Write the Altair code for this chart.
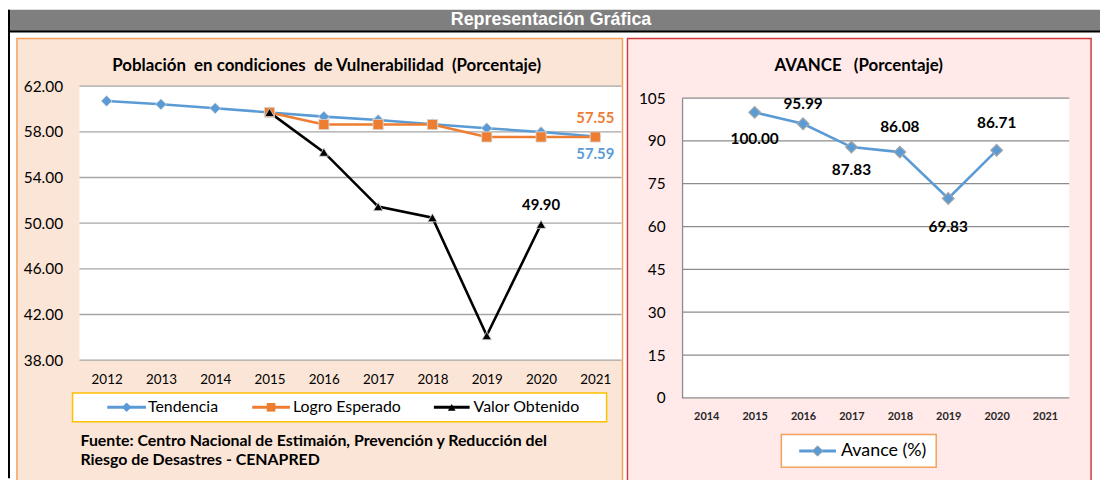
import altair as alt
import pandas as pd

# ---------------- data ----------------
years_left = [2012, 2013, 2014, 2015, 2016, 2017, 2018, 2019, 2020, 2021]
series = ["Tendencia", "Logro Esperado", "Valor Obtenido"]
tendencia = [60.70, 60.41, 60.06, 59.70, 59.33, 59.04, 58.67, 58.32, 57.98, 57.59]
logro_years = [2015, 2016, 2017, 2018, 2019, 2020, 2021]
logro = [59.70, 58.64, 58.64, 58.64, 57.55, 57.55, 57.55]
valor_years = [2015, 2016, 2017, 2018, 2019, 2020]
valor = [59.70, 56.22, 51.45, 50.48, 40.15, 49.90]
left_ticks = [38, 42, 46, 50, 54, 58, 62]

years_right = [2014, 2015, 2016, 2017, 2018, 2019, 2020, 2021]
avance_years = [2015, 2016, 2017, 2018, 2019, 2020]
avance = [100.00, 95.99, 87.83, 86.08, 69.83, 86.71]
right_ticks = [0, 15, 30, 45, 60, 75, 90, 105]

NB = "\u00a0"
header_text = "Representación Gráfica"
left_title = f"Población{NB} en condiciones{NB} de Vulnerabilidad{NB} (Porcentaje)"
right_title = f"AVANCE{NB}{NB} (Porcentaje)"
footer = ["Fuente: Centro Nacional de Estimaión, Prevención y Reducción del",
          "Riesgo de Desastres - CENAPRED"]
right_legend = "Avance (%)"

# ---------------- tables ----------------
rows = []
for name, yrs, vals in [(series[0], years_left, tendencia),
                        (series[1], logro_years, logro),
                        (series[2], valor_years, valor)]:
    for y, v in zip(yrs, vals):
        rows.append({"year": y, "value": v, "series": name})
left_df = pd.DataFrame(rows)
right_df = pd.DataFrame({"year": avance_years, "value": avance})
one = pd.DataFrame({"k": [0]})

# ---------------- styling ----------------
FONT = "Lato"
BLUE, ORANGE, BLACK = "#5b9bd5", "#ed7d31", "#000000"
W, H = 1100, 472


def P(v):
    # page pixel -> chart pixel (page has an 8px margin)
    return v - 8


LX = alt.Scale(type="point", domain=years_left, range=[P(80), P(627)], padding=0.5)
LY = alt.Scale(domain=[38, 62], range=[P(361), P(85)], nice=False, zero=False)
RX = alt.Scale(type="point", domain=years_right, range=[P(687), P(1077)], padding=0.5)
RY = alt.Scale(domain=[0, 105], range=[P(399), P(97)], nice=False, zero=False)


def box(x0, x1, y0, y1, fill, stroke=None, sw=1.5):
    kw = dict(fill=fill)
    if stroke:
        kw.update(stroke=stroke, strokeWidth=sw)
    return alt.Chart(one).mark_rect(**kw).encode(
        x=alt.value(x0), x2=alt.value(x1), y=alt.value(y0), y2=alt.value(y1))


def label(txt, x, y, size=15, weight="bold", color="black", align="left", font=FONT):
    return alt.Chart(one).mark_text(text=txt, font=font, fontSize=size, fontWeight=weight,
                                    color=color, align=align, baseline="middle").encode(
        x=alt.value(x), y=alt.value(y))


layers = []
# header
layers.append(box(0, W, 0, P(29.5), "#7f7f7f"))
layers.append(alt.Chart(one).mark_rule(color="black", strokeWidth=2).encode(
    x=alt.value(0), x2=alt.value(W), y=alt.value(P(30))))
layers.append(alt.Chart(one).mark_rule(color="black", strokeWidth=2).encode(
    x=alt.value(1), y=alt.value(0), y2=alt.value(H)))
layers.append(label(header_text, P(555), P(18), size=18, color="white", align="center",
                    font="Liberation Sans"))

# panels
layers.append(box(P(17), P(627), P(37), H + 10, "#fbe5d6", "#f4a15d"))
layers.append(box(P(632), P(1099), P(37), H + 10, "#ffe9e9", "#d23b3b"))
layers.append(box(P(80), P(626), P(85), P(361), "white"))
layers.append(box(P(687), P(1077), P(97), P(399), "white"))

# titles
layers.append(label(left_title, P(329), P(65), size=17, align="center"))
layers.append(label(right_title, P(865), P(65), size=17, align="center"))

# ---------- left chart ----------
layers.append(alt.Chart(pd.DataFrame({"tick": left_ticks})).mark_rule(
    color="#a6a6a6", strokeWidth=1.3).encode(
    y=alt.Y("tick:Q", scale=LY, axis=None),
    x=alt.value(P(80)), x2=alt.value(P(626))))

color_l = alt.Color("series:N", scale=alt.Scale(domain=series, range=[BLUE, ORANGE, BLACK]),
                    legend=None)
layers.append(alt.Chart(left_df).mark_line(strokeWidth=2.6).encode(
    x=alt.X("year:O", scale=LX, title=None,
            axis=alt.Axis(orient="bottom", offset=P(361) - H, domain=False, ticks=False,
                          tickSize=0, grid=False, labelAngle=0, labelFont=FONT,
                          labelFontSize=13.5, labelColor="black", labelBaseline="middle",
                          labelPadding=20, zindex=1)),
    y=alt.Y("value:Q", scale=LY, title=None,
            axis=alt.Axis(orient="left", offset=-P(80), values=left_ticks, format=".2f",
                          domain=False, ticks=False, tickSize=0, grid=False,
                          labelFont=FONT, labelFontSize=15.5, labelColor="black",
                          labelPadding=17, zindex=1)),
    color=color_l))

layers.append(alt.Chart(left_df).mark_point(filled=True, opacity=1, stroke="#d9d9d9",
                                            strokeWidth=0.8).encode(
    x=alt.X("year:O", scale=LX, axis=None),
    y=alt.Y("value:Q", scale=LY, axis=None),
    color=color_l,
    shape=alt.Shape("series:N", scale=alt.Scale(domain=series,
                                                range=["diamond", "square", "triangle-up"]),
                    legend=None),
    size=alt.Size("series:N", scale=alt.Scale(domain=series, range=[120, 90, 160]),
                  legend=None)))

for name, yr, col, dy in [(series[1], 2021, ORANGE, -19),
                          (series[0], 2021, BLUE, 18),
                          (series[2], 2020, BLACK, -19)]:
    layers.append(alt.Chart(left_df).transform_filter(
        (alt.datum.series == name) & (alt.datum.year == yr)).mark_text(
        font=FONT, fontSize=15, fontWeight="bold", color=col, dy=dy).encode(
        x=alt.X("year:O", scale=LX, axis=None),
        y=alt.Y("value:Q", scale=LY, axis=None),
        text=alt.Text("value:Q", format=".2f")))

# left legend (drawn)
layers.append(box(P(73), P(611), P(394), P(423), "white", "#ffc000"))
LEGY = P(408.5)
for name, col, shp, sz, x0, x1, tx in [
        (series[0], BLUE, "diamond", 90, 108, 147, 149),
        (series[1], ORANGE, "square", 75, 254, 292, 295),
        (series[2], BLACK, "triangle-up", 60, 437, 473, 477)]:
    layers.append(alt.Chart(one).mark_rule(color=col, strokeWidth=3).encode(
        x=alt.value(P(x0)), x2=alt.value(P(x1)), y=alt.value(LEGY)))
    layers.append(alt.Chart(one).mark_point(shape=shp, filled=True, color=col, size=sz,
                                            opacity=1).encode(
        x=alt.value(P((x0 + x1) / 2)), y=alt.value(LEGY)))
    layers.append(label(name, P(tx), LEGY, size=16, weight="normal"))

# footer
layers.append(label(footer[0], P(81), P(442), size=16))
layers.append(label(footer[1], P(81), P(462), size=16))

# ---------- right chart ----------
layers.append(alt.Chart(pd.DataFrame({"tick": right_ticks})).mark_rule(
    color="#8c8c8c", strokeWidth=1.3).encode(
    y=alt.Y("tick:Q", scale=RY, axis=None),
    x=alt.value(P(687)), x2=alt.value(P(1077))))

layers.append(alt.Chart(right_df).mark_line(color=BLUE, strokeWidth=2.6).encode(
    x=alt.X("year:O", scale=RX, title=None,
            axis=alt.Axis(orient="bottom", offset=P(399) - H, domain=False, ticks=False,
                          tickSize=0, grid=False, labelAngle=0, labelFont=FONT,
                          labelFontSize=11, labelFontWeight="bold", labelColor="#262626",
                          labelBaseline="middle", labelPadding=19, zindex=1)),
    y=alt.Y("value:Q", scale=RY, title=None,
            axis=alt.Axis(orient="left", offset=-P(687), values=right_ticks, format="d",
                          domain=True, domainColor="#8c8c8c", domainWidth=1.3,
                          ticks=False, tickSize=0, grid=False, labelFont=FONT,
                          labelFontSize=15.5, labelColor="black", labelPadding=17,
                          zindex=1))))

layers.append(alt.Chart(right_df).mark_point(shape="diamond", filled=True, fill=BLUE,
                                             stroke="#a6a6a6", strokeWidth=1.2, size=140,
                                             opacity=1).encode(
    x=alt.X("year:O", scale=RX, axis=None),
    y=alt.Y("value:Q", scale=RY, axis=None)))

label_dy = {2015: 27, 2016: -20, 2017: 23, 2018: -25, 2019: 29, 2020: -27}
for yr, dy in label_dy.items():
    layers.append(alt.Chart(right_df).transform_filter(alt.datum.year == yr).mark_text(
        font=FONT, fontSize=15.5, fontWeight="bold", color="black", dy=dy).encode(
        x=alt.X("year:O", scale=RX, axis=None),
        y=alt.Y("value:Q", scale=RY, axis=None),
        text=alt.Text("value:Q", format=".2f")))

# right legend (drawn)
layers.append(box(P(787), P(943), P(436), P(469), "white", "#f4a15d"))
RLY = P(452.5)
layers.append(alt.Chart(one).mark_rule(color=BLUE, strokeWidth=3).encode(
    x=alt.value(P(805)), x2=alt.value(P(842)), y=alt.value(RLY)))
layers.append(alt.Chart(one).mark_point(shape="diamond", filled=True, fill=BLUE,
                                        stroke="#a6a6a6", strokeWidth=1, size=110,
                                        opacity=1).encode(
    x=alt.value(P(823.5)), y=alt.value(RLY)))
layers.append(label(right_legend, P(847), RLY, size=18, weight="normal"))

chart = alt.layer(*layers).resolve_scale(
    x="independent", y="independent", color="independent",
    shape="independent", size="independent"
).properties(
    width=W, height=H, padding=0, autosize=alt.AutoSizeParams(type="none"),
    background="white"
).configure_view(stroke=None)

chart.save("out.html", embed_options={"renderer": "svg", "actions": False})
